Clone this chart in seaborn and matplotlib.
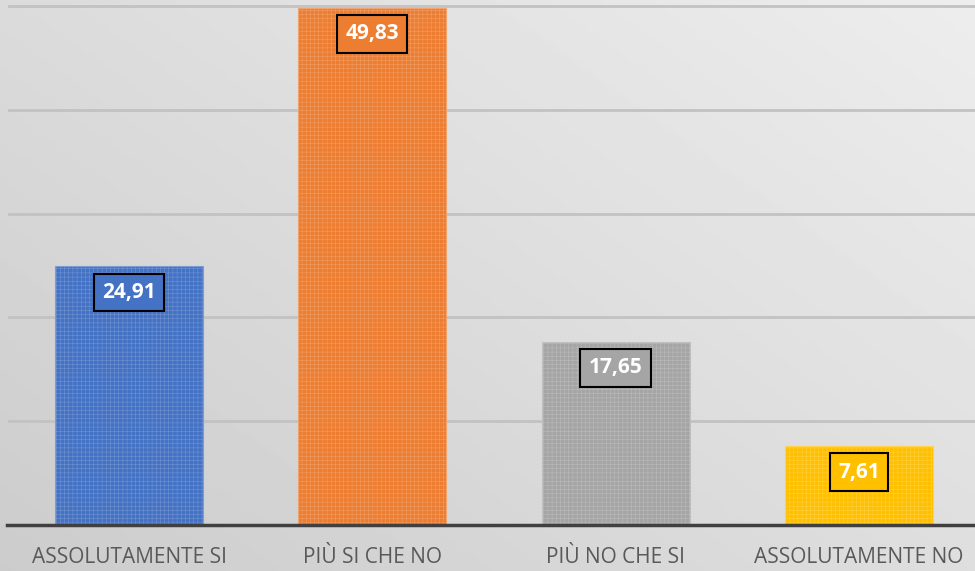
import numpy as np
import pandas as pd
import matplotlib.pyplot as plt
import matplotlib.colors as mcolors
import seaborn as sns

# Dati
categorie = ["ASSOLUTAMENTE SI", "PIÙ SI CHE NO", "PIÙ NO CHE SI", "ASSOLUTAMENTE NO"]
valori = [24.91, 49.83, 17.65, 7.61]
etichette = ["24,91", "49,83", "17,65", "7,61"]
colori = ["#4472C4", "#ED7D31", "#A5A5A5", "#FFC000"]

df = pd.DataFrame({"categoria": categorie, "valore": valori})

sns.set_theme(style="white")
plt.rcParams["font.family"] = ["Open Sans", "DejaVu Sans"]
plt.rcParams["hatch.linewidth"] = 0.3

fig = plt.figure(figsize=(9.75, 5.71), dpi=100)

# sfondo sfumato
bg = fig.add_axes([0, 0, 1, 1], zorder=0)
yy, xx = np.mgrid[0:1:200j, 0:1:300j]
grad = 0.80 + 0.13 * (0.55 * xx + 0.45 * (1 - yy))
bg.imshow(grad, cmap="gray", vmin=0, vmax=1, aspect="auto", extent=[0, 1, 0, 1])
bg.axis("off")

ax = fig.add_axes([7.5 / 975, 46 / 571, 973 / 975, 522 / 571], zorder=1)
ax.patch.set_alpha(0)

sns.barplot(data=df, x="categoria", y="valore", hue="categoria", palette=colori,
            width=148 / 243, saturation=1, legend=False, ax=ax)

for i, p in enumerate(ax.patches):
    chiaro = mcolors.to_hex([c + (1 - c) * 0.3 for c in mcolors.to_rgb(colori[i])])
    p.set_edgecolor(chiaro)
    p.set_linewidth(0.8)
    p.set_hatch("++++")

ax.set_ylim(0, 50.3)
ax.set_yticks([10, 20, 30, 40, 50])
ax.set_yticklabels([])
ax.yaxis.grid(True, color="#C2C2C2", linewidth=2)
ax.set_axisbelow(True)
ax.set_xlabel("")
ax.set_ylabel("")

for s in ["top", "left", "right"]:
    ax.spines[s].set_visible(False)
ax.spines["bottom"].set_color("#404040")
ax.spines["bottom"].set_linewidth(2.5)

ax.tick_params(axis="x", length=0, pad=16, labelsize=15, labelcolor="#595959")
ax.tick_params(axis="y", length=0)

for i, (v, lbl) in enumerate(zip(valori, etichette)):
    ax.annotate(lbl, (i, v), xytext=(0, -26 * 0.72), textcoords="offset points",
                ha="center", va="center", color="white", fontweight="bold", fontsize=15,
                bbox=dict(boxstyle="square,pad=0.4", fc=colori[i], ec="black", lw=1.5))

plt.savefig("out.png", dpi=100)
plt.close()
